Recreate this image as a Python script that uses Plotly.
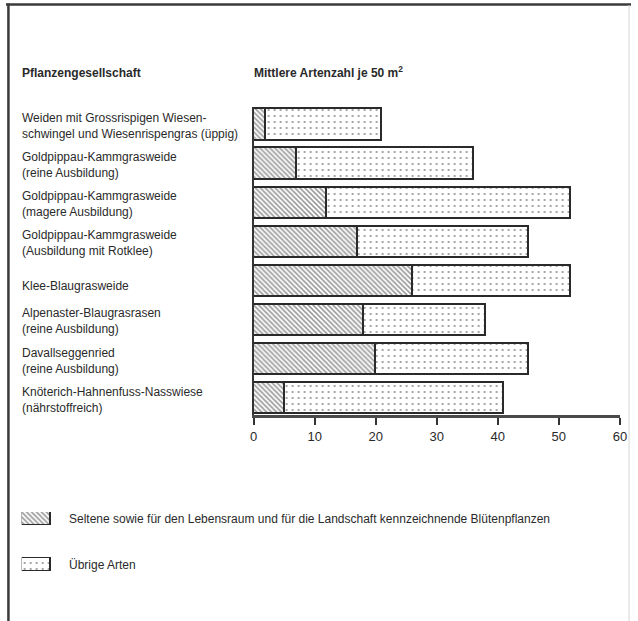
import plotly.graph_objects as go

# Plant communities (each label split into its printed lines)
communities = [
    ["Weiden mit Grossrispigen Wiesen-", "schwingel und Wiesenrispengras (üppig)"],
    ["Goldpippau-Kammgrasweide", "(reine Ausbildung)"],
    ["Goldpippau-Kammgrasweide", "(magere Ausbildung)"],
    ["Goldpippau-Kammgrasweide", "(Ausbildung mit Rotklee)"],
    ["Klee-Blaugrasweide"],
    ["Alpenaster-Blaugrasrasen", "(reine Ausbildung)"],
    ["Davallseggenried", "(reine Ausbildung)"],
    ["Knöterich-Hahnenfuss-Nasswiese", "(nährstoffreich)"],
]

# Mean number of species per 50 m²
rare_species = [2, 7, 12, 17, 26, 18, 20, 5]
other_species = [19, 29, 40, 28, 26, 20, 25, 36]

x_ticks = [0, 10, 20, 30, 40, 50, 60]

legend_labels = [
    "Seltene sowie für den Lebensraum und für die Landschaft kennzeichnende Blütenpflanzen",
    "Übrige Arten",
]

W, H = 638, 621
FONT = "Liberation Sans, Arial, Helvetica, sans-serif"
INK = "#2a2a2a"

def px(x):
    return x / W

def py(y):
    return 1 - y / H

hatch = dict(shape="\\", fgcolor="#333333", bgcolor="white", size=3.5, solidity=0.45)
dots = dict(shape=".", fgcolor="#222222", bgcolor="white", size=6, solidity=0.1)
outline = dict(color="#2a2a2a", width=1.8)

idx = list(range(len(communities)))

fig = go.Figure()
fig.add_trace(go.Bar(
    y=idx, x=rare_species, orientation="h", width=0.8,
    marker=dict(color="white", pattern=hatch, line=outline),
    showlegend=False, hoverinfo="skip",
))
fig.add_trace(go.Bar(
    y=idx, x=other_species, orientation="h", width=0.8,
    marker=dict(color="white", pattern=dots, line=outline),
    showlegend=False, hoverinfo="skip",
))

# legend swatches on their own small axes
fig.add_trace(go.Bar(
    y=[0], x=[1], orientation="h", width=0.283, xaxis="x2", yaxis="y2",
    marker=dict(color="white", pattern=hatch, line=dict(color="#2a2a2a", width=1.3)),
    showlegend=False, hoverinfo="skip",
))
fig.add_trace(go.Bar(
    y=[1], x=[1], orientation="h", width=0.283, xaxis="x2", yaxis="y2",
    marker=dict(color="white", pattern=dots, line=dict(color="#2a2a2a", width=1.3)),
    showlegend=False, hoverinfo="skip",
))

annotations = []
# community labels, left aligned in the left column
for i, lines in enumerate(communities):
    annotations.append(dict(
        text="<br>".join(lines), xref="paper", yref="y", x=px(16), y=i,
        yshift=-5 if len(lines) == 1 else -1,
        xanchor="left", yanchor="middle", align="left", showarrow=False,
        font=dict(family=FONT, size=12, color=INK),
    ))

# column headings
annotations.append(dict(
    text="<b>Pflanzengesellschaft</b>", xref="paper", yref="paper",
    x=px(16), y=py(73), xanchor="left", yanchor="middle", showarrow=False,
    font=dict(family=FONT, size=12, color=INK),
))
annotations.append(dict(
    text="<b>Mittlere Artenzahl je 50 m<sup>2</sup></b>", xref="paper", yref="paper",
    x=px(252), y=py(72), xanchor="left", yanchor="middle", showarrow=False,
    font=dict(family=FONT, size=12, color=INK),
))

# legend texts
for j, label in enumerate(legend_labels):
    annotations.append(dict(
        text=label, xref="paper", yref="y2", x=px(64), y=j,
        xanchor="left", yanchor="middle", showarrow=False,
        font=dict(family=FONT, size=12, color=INK),
    ))

shapes = [
    # frame: top and left edges
    dict(type="line", xref="paper", yref="paper", x0=px(2), x1=1, y0=py(4.5), y1=py(4.5),
         line=dict(color="#3a3a3a", width=2.5)),
    dict(type="line", xref="paper", yref="paper", x0=px(4.5), x1=px(4.5), y0=0, y1=py(3.5),
         line=dict(color="#3a3a3a", width=2.5)),
    dict(type="line", xref="paper", yref="paper", x0=px(636), x1=px(636), y0=0, y1=py(5),
         line=dict(color="#d6d6d6", width=1)),
]

fig.update_layout(
    width=W, height=H,
    margin=dict(l=0, r=0, t=0, b=0),
    paper_bgcolor="white", plot_bgcolor="white",
    barmode="stack", bargap=0,
    font=dict(family=FONT, color=INK),
    xaxis=dict(
        domain=[px(254), px(626.7)], range=[0, 60],
        tickvals=x_ticks, ticktext=[str(v) for v in x_ticks],
        showgrid=False, zeroline=False,
        showline=True, linecolor="#4a4a4a", linewidth=3,
        ticks="outside", ticklen=7, tickwidth=1.5, tickcolor="#333333",
        tickfont=dict(family=FONT, size=13, color=INK),
        anchor="y",
    ),
    yaxis=dict(
        domain=[py(415), py(107)], range=[7.42, -0.46],
        showticklabels=False, showgrid=False, zeroline=False,
        showline=True, linecolor="#333333", linewidth=2, ticks="",
        anchor="x",
    ),
    xaxis2=dict(
        domain=[px(18), px(48)], range=[0, 1], visible=False, anchor="y2",
    ),
    yaxis2=dict(
        domain=[py(571), py(512)], range=[1.1413, -0.1413], visible=False, anchor="x2",
    ),
    annotations=annotations,
    shapes=shapes,
)

# page body without its default margin so the figure fills the window exactly
fig.write_html(
    "out.html",
    post_script="document.body.style.margin='0';document.body.style.overflow='hidden';",
)
